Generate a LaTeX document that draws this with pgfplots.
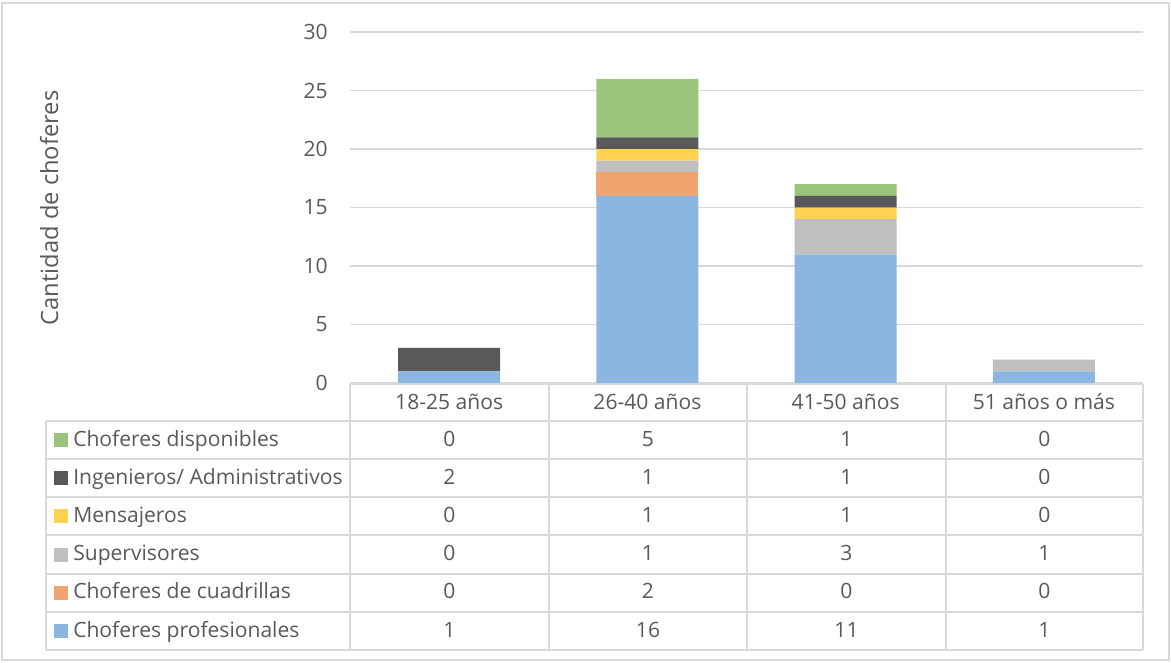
\documentclass[border=0pt]{standalone}
\usepackage{pgfplots}
\pgfplotsset{compat=1.18}
\usepackage{fontspec}
\setmainfont{Open Sans}
\definecolor{txt}{RGB}{89,89,89}
\definecolor{gridc}{RGB}{217,217,217}
\definecolor{cblue}{RGB}{139,182,224}
\definecolor{corange}{RGB}{240,164,111}
\definecolor{cgray}{RGB}{191,191,191}
\definecolor{cyellow}{RGB}{255,210,80}
\definecolor{cdark}{RGB}{89,89,89}
\definecolor{cgreen}{RGB}{157,196,125}
\begin{document}
\begin{tikzpicture}[font=\fontsize{15.8}{18}\selectfont, text=txt]
\begin{scope}[x=0.75pt,y=-0.75pt]
\path[use as bounding box] (0,0) rectangle (1171,662);
\draw[gridc, line width=1.2pt] (2,3) rectangle (1169,660);
% table grid
\draw[gridc, line width=1.2pt] (350,384) -- (1143,384);
\foreach \y in {421,459,497,535,574,612,650} \draw[gridc, line width=1.2pt] (46,\y) -- (1143,\y);
\draw[gridc, line width=1.2pt] (46,421) -- (46,650);
\foreach \x in {350,549,747,946,1143} \draw[gridc, line width=1.2pt] (\x,384) -- (\x,650);
% legend column
\foreach \c/\name [count=\i from 0] in {cgreen/{Choferes disponibles}, cdark/{Ingenieros/ Administrativos}, cyellow/{Mensajeros}, cgray/{Supervisores}, corange/{Choferes de cuadrillas}, cblue/{Choferes profesionales}}{
  \pgfmathsetmacro{\yc}{440+38.2*\i}
  \fill[\c] (54,\yc-7) rectangle (68,\yc+7);
  \node[anchor=base west, inner sep=0pt] at (73,\yc+6) {\name};
}
% values
\foreach \a/\b/\cc/\d [count=\i from 0] in {0/5/1/0, 2/1/1/0, 0/1/1/0, 0/1/3/1, 0/2/0/0, 1/16/11/1}{
  \pgfmathsetmacro{\yc}{440+38.2*\i}
  \node[anchor=base, inner sep=0pt] at (449.5,\yc+6) {\a};
  \node[anchor=base, inner sep=0pt] at (648,\yc+6) {\b};
  \node[anchor=base, inner sep=0pt] at (846.5,\yc+6) {\cc};
  \node[anchor=base, inner sep=0pt] at (1044.5,\yc+6) {\d};
}
\node[rotate=90, anchor=base, inner sep=0pt, font=\fontsize{17.8}{20}\selectfont] at (58,208) {Cantidad de choferes};
\end{scope}
\begin{axis}[at={(262.5pt,-287.25pt)}, anchor=south west, scale only axis,
  width=594.75pt, height=263.25pt,
  xmin=-0.5, xmax=3.5, ymin=0, ymax=30,
  ybar stacked, bar width=76.5pt,
  ytick={0,5,...,30}, ymajorgrids, grid style={gridc, line width=1.1pt},
  axis line style={draw=none}, major tick length=0,
  xtick={0,1,2,3},
  xticklabels={18-25 años, 26-40 años, 41-50 años, 51 años o más},
  xticklabel style={anchor=base, inner sep=0pt, yshift=-19.5pt},
  yticklabel style={anchor=east, inner sep=0pt, xshift=-16.5pt},
  /pgf/number format/assume math mode=true,
  tick label style={font=\fontsize{15.8}{18}\selectfont, text=txt},
  clip=false]
\addplot[fill=cblue, draw=none] coordinates {(0,1)(1,16)(2,11)(3,1)};
\addplot[fill=corange, draw=none] coordinates {(0,0)(1,2)(2,0)(3,0)};
\addplot[fill=cgray, draw=none] coordinates {(0,0)(1,1)(2,3)(3,1)};
\addplot[fill=cyellow, draw=none] coordinates {(0,0)(1,1)(2,1)(3,0)};
\addplot[fill=cdark, draw=none] coordinates {(0,2)(1,1)(2,1)(3,0)};
\addplot[fill=cgreen, draw=none] coordinates {(0,0)(1,5)(2,1)(3,0)};
\end{axis}
\end{tikzpicture}
\end{document}
